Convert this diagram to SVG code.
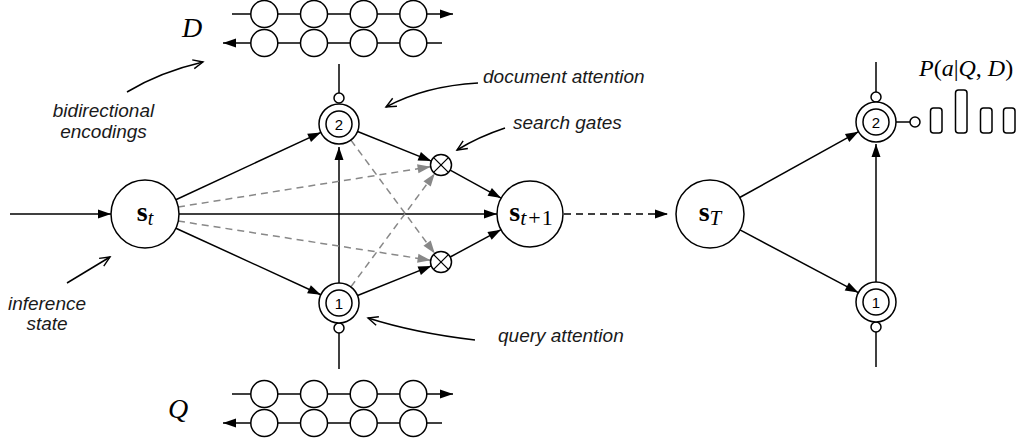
<svg xmlns="http://www.w3.org/2000/svg" width="1028" height="442" viewBox="0 0 1028 442">
<style>
.ln{stroke:#000;stroke-width:1.5;fill:none}
.gd{stroke:#888;stroke-width:1.5;fill:none;stroke-dasharray:7 5}
.bd{stroke:#000;stroke-width:1.5;fill:none;stroke-dasharray:7 5}
.nd{stroke:#000;stroke-width:1.5;fill:#fff}
.lab{font-family:"Liberation Sans",Arial,sans-serif;font-style:italic;font-size:19px;fill:#1a1a1a}
.num{font-family:"Liberation Sans",Arial,sans-serif;font-size:15px;text-anchor:middle}
.st{font-family:"Liberation Serif","Times New Roman",serif;text-anchor:middle}
.cal{font-family:"Liberation Serif","Times New Roman",serif;font-style:italic;font-size:28px;text-anchor:middle}
</style>
<defs>
<marker id="ah" markerUnits="userSpaceOnUse" markerWidth="14" markerHeight="10" refX="13" refY="4.5" orient="auto" overflow="visible"><path d="M0,0 L13,4.5 L0,9 Z" fill="#000"/></marker>
<marker id="ahg" markerUnits="userSpaceOnUse" markerWidth="14" markerHeight="10" refX="13" refY="4.5" orient="auto" overflow="visible"><path d="M0,0 L13,4.5 L0,9 Z" fill="#888"/></marker>
<marker id="op" markerUnits="userSpaceOnUse" markerWidth="12" markerHeight="10" refX="10" refY="4.5" orient="auto" overflow="visible"><path d="M0,0 L10,4.5 L0,9" fill="none" stroke="#000" stroke-width="1.4"/></marker>
</defs>

<g id="connectors">
<path class="ln" d="M232,14 H453" marker-end="url(#ah)"/>
<path class="ln" d="M442,43 H223" marker-end="url(#ah)"/>
<path class="ln" d="M232,394 H453" marker-end="url(#ah)"/>
<path class="ln" d="M442,423 H223" marker-end="url(#ah)"/>
<path class="ln" d="M339,64 V93"/>
<path class="ln" d="M339,333 V369"/>
<path class="ln" d="M10,214 H111" marker-end="url(#ah)"/>
<path class="ln" d="M175.8,199.7 L320.9,132.4" marker-end="url(#ah)"/>
<path class="ln" d="M175.9,228.2 L320.8,294.7" marker-end="url(#ah)"/>
<path class="ln" d="M339,283 V147" marker-end="url(#ah)"/>
<path class="ln" d="M357.6,131.5 L431.3,161.1" marker-end="url(#ah)"/>
<path class="ln" d="M357.6,295.5 L431.3,265.9" marker-end="url(#ah)"/>
<path class="ln" d="M450.2,170.1 L501.1,198.1" marker-end="url(#ah)"/>
<path class="ln" d="M450.2,257 L501,229.7" marker-end="url(#ah)"/>
<path class="ln" d="M179,214 H497" marker-end="url(#ah)"/>
<path class="gd" d="M178,207 L430.6,166.7" marker-end="url(#ahg)"/>
<path class="gd" d="M178,221 L430.6,260.3" marker-end="url(#ahg)"/>
<path class="gd" d="M350.9,140.1 L434.8,253.6" marker-end="url(#ahg)"/>
<path class="gd" d="M350.9,286.9 L434.8,173.4" marker-end="url(#ahg)"/>
<path class="bd" d="M564,214 H668" marker-end="url(#ah)"/>
<path class="ln" d="M739.7,197.5 L858.5,131.7" marker-end="url(#ah)"/>
<path class="ln" d="M740,229.9 L858.3,292.6" marker-end="url(#ah)"/>
<path class="ln" d="M876,282 V144" marker-end="url(#ah)"/>
<path class="ln" d="M876,62 V92"/>
<path class="ln" d="M876,332 V367"/>
<path class="ln" d="M896,122 H910"/>
<path class="ln" d="M127,92 Q160,72 203,62" marker-end="url(#op)"/>
<path class="ln" d="M478,83 Q425,86 386,107" marker-end="url(#op)"/>
<path class="ln" d="M505,128 Q478,137 457,150" marker-end="url(#op)"/>
<path class="ln" d="M475,340 Q415,333 368,318" marker-end="url(#op)"/>
<path class="ln" d="M67,283 L110,257" marker-end="url(#op)"/>
</g>

<g id="D-chain">
<circle class="nd" cx="264.3" cy="14" r="13.5"/><circle class="nd" cx="314" cy="14" r="13.5"/><circle class="nd" cx="363.7" cy="14" r="13.5"/><circle class="nd" cx="413.3" cy="14" r="13.5"/>
<circle class="nd" cx="264.3" cy="43" r="13.5"/><circle class="nd" cx="314" cy="43" r="13.5"/><circle class="nd" cx="363.7" cy="43" r="13.5"/><circle class="nd" cx="413.3" cy="43" r="13.5"/>
<text class="cal" x="192" y="37">D</text>
</g>

<g id="Q-chain">
<circle class="nd" cx="264.3" cy="394" r="13.5"/><circle class="nd" cx="314" cy="394" r="13.5"/><circle class="nd" cx="363.7" cy="394" r="13.5"/><circle class="nd" cx="413.3" cy="394" r="13.5"/>
<circle class="nd" cx="264.3" cy="423" r="13.5"/><circle class="nd" cx="314" cy="423" r="13.5"/><circle class="nd" cx="363.7" cy="423" r="13.5"/><circle class="nd" cx="413.3" cy="423" r="13.5"/>
<text class="cal" x="178" y="418">Q</text>
</g>

<g id="s_t">
<circle class="nd" cx="145" cy="214" r="34"/>
<text class="st" x="145" y="221"><tspan font-weight="bold" font-size="28">s</tspan><tspan font-style="italic" font-size="20" dy="4">t</tspan></text>
</g>

<g id="doc-attn">
<circle class="nd" cx="339" cy="98" r="5"/>
<circle class="nd" cx="339" cy="124" r="20"/>
<circle class="nd" cx="339" cy="124" r="13"/>
<text class="num" x="339" y="129.5">2</text>
</g>

<g id="query-attn">
<circle class="nd" cx="339" cy="328" r="5"/>
<circle class="nd" cx="339" cy="303" r="20"/>
<circle class="nd" cx="339" cy="303" r="13"/>
<text class="num" x="339" y="308.5">1</text>
</g>

<g id="gate-top">
<circle class="nd" cx="441" cy="165" r="10.5"/>
<path class="ln" d="M433.6,157.6 L448.4,172.4 M448.4,157.6 L433.6,172.4" style="stroke-width:1.3"/>
</g>
<g id="gate-bottom">
<circle class="nd" cx="441" cy="262" r="10.5"/>
<path class="ln" d="M433.6,254.6 L448.4,269.4 M448.4,254.6 L433.6,269.4" style="stroke-width:1.3"/>
</g>

<g id="s_t1">
<circle class="nd" cx="530" cy="214" r="33"/>
<text class="st" x="531" y="221"><tspan font-weight="bold" font-size="28">s</tspan><tspan font-style="italic" font-size="22" dy="4">t</tspan><tspan font-size="22" dx="2">+</tspan><tspan font-size="22" dx="1">1</tspan></text>
</g>

<g id="s_T">
<circle class="nd" cx="710" cy="214" r="34"/>
<text class="st" x="710" y="221"><tspan font-weight="bold" font-size="28">s</tspan><tspan font-style="italic" font-size="21" dy="4">T</tspan></text>
</g>

<g id="doc-attn-final">
<circle class="nd" cx="876" cy="97" r="5"/>
<circle class="nd" cx="876" cy="122" r="20"/>
<circle class="nd" cx="876" cy="122" r="13"/>
<text class="num" x="876" y="127.5">2</text>
<circle class="nd" cx="915" cy="122" r="5"/>
</g>

<g id="query-attn-final">
<circle class="nd" cx="876" cy="327" r="5"/>
<circle class="nd" cx="876" cy="302" r="20"/>
<circle class="nd" cx="876" cy="302" r="13"/>
<text class="num" x="876" y="307.5">1</text>
</g>

<g id="answer">
<rect class="nd" x="930.5" y="108" width="11.5" height="25" rx="3"/>
<rect class="nd" x="955.5" y="90" width="11.5" height="43" rx="3"/>
<rect class="nd" x="980.5" y="108" width="11.5" height="25" rx="3"/>
<rect class="nd" x="1003.5" y="108" width="11.5" height="25" rx="3"/>
<text x="919" y="76" font-family="Liberation Serif,Times New Roman,serif" font-size="24"><tspan font-style="italic">P</tspan>(<tspan font-style="italic">a</tspan>|<tspan font-style="italic">Q</tspan>, <tspan font-style="italic">D</tspan>)</text>
</g>

<g id="labels">
<text class="lab" x="483" y="83">document attention</text>
<text class="lab" x="513" y="129">search gates</text>
<text class="lab" x="498" y="342">query attention</text>
<text class="lab" x="103.5" y="117" text-anchor="middle">bidirectional</text>
<text class="lab" x="103.5" y="138" text-anchor="middle">encodings</text>
<text class="lab" x="47" y="310" text-anchor="middle">inference</text>
<text class="lab" x="47" y="330" text-anchor="middle">state</text>
</g>
</svg>
